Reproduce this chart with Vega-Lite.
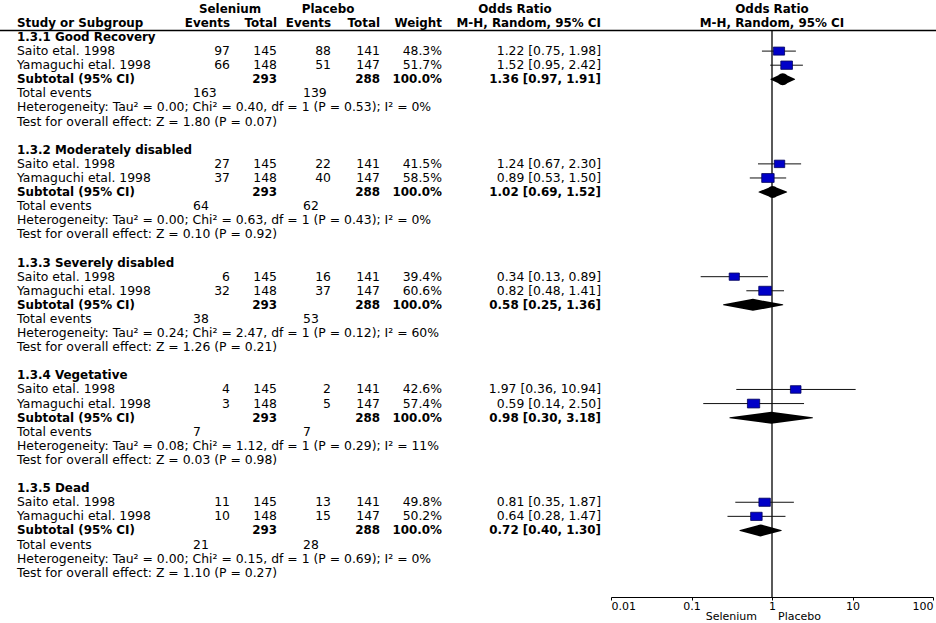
{
  "$schema": "https://vega.github.io/schema/vega-lite/v6.json",
  "width": 936,
  "height": 597,
  "autosize": {"type": "none"},
  "padding": {"left": 0, "top": 0, "right": 0, "bottom": 26},
  "background": "white",
  "config": {
    "view": {"stroke": null},
    "text": {"font": "DejaVu Sans", "fontSize": 12.4, "fill": "#000", "baseline": "middle"}
  },
  "datasets": {
    "lines": [
      {"row": 0, "kind": "group", "label": "1.3.1 Good Recovery"},
      {"row": 1, "kind": "study", "label": "Saito etal. 1998", "se": 97, "st": 145, "pe": 88, "pt": 141, "w": 0.483, "or": 1.22, "lo": 0.75, "hi": 1.98, "ci": "1.22 [0.75, 1.98]"},
      {"row": 2, "kind": "study", "label": "Yamaguchi etal. 1998", "se": 66, "st": 148, "pe": 51, "pt": 147, "w": 0.517, "or": 1.52, "lo": 0.95, "hi": 2.42, "ci": "1.52 [0.95, 2.42]"},
      {"row": 3, "kind": "subtotal", "label": "Subtotal (95% CI)", "st": 293, "pt": 288, "w": 1, "or": 1.36, "lo": 0.97, "hi": 1.91, "ci": "1.36 [0.97, 1.91]"},
      {"row": 4, "kind": "events", "label": "Total events", "se": 163, "pe": 139},
      {"row": 5, "kind": "note", "label": "Heterogeneity: Tau² = 0.00; Chi² = 0.40, df = 1 (P = 0.53); I² = 0%"},
      {"row": 6, "kind": "note", "label": "Test for overall effect: Z = 1.80 (P = 0.07)"},

      {"row": 8, "kind": "group", "label": "1.3.2 Moderately disabled"},
      {"row": 9, "kind": "study", "label": "Saito etal. 1998", "se": 27, "st": 145, "pe": 22, "pt": 141, "w": 0.415, "or": 1.24, "lo": 0.67, "hi": 2.30, "ci": "1.24 [0.67, 2.30]"},
      {"row": 10, "kind": "study", "label": "Yamaguchi etal. 1998", "se": 37, "st": 148, "pe": 40, "pt": 147, "w": 0.585, "or": 0.89, "lo": 0.53, "hi": 1.50, "ci": "0.89 [0.53, 1.50]"},
      {"row": 11, "kind": "subtotal", "label": "Subtotal (95% CI)", "st": 293, "pt": 288, "w": 1, "or": 1.02, "lo": 0.69, "hi": 1.52, "ci": "1.02 [0.69, 1.52]"},
      {"row": 12, "kind": "events", "label": "Total events", "se": 64, "pe": 62},
      {"row": 13, "kind": "note", "label": "Heterogeneity: Tau² = 0.00; Chi² = 0.63, df = 1 (P = 0.43); I² = 0%"},
      {"row": 14, "kind": "note", "label": "Test for overall effect: Z = 0.10 (P = 0.92)"},

      {"row": 16, "kind": "group", "label": "1.3.3 Severely disabled"},
      {"row": 17, "kind": "study", "label": "Saito etal. 1998", "se": 6, "st": 145, "pe": 16, "pt": 141, "w": 0.394, "or": 0.34, "lo": 0.13, "hi": 0.89, "ci": "0.34 [0.13, 0.89]"},
      {"row": 18, "kind": "study", "label": "Yamaguchi etal. 1998", "se": 32, "st": 148, "pe": 37, "pt": 147, "w": 0.606, "or": 0.82, "lo": 0.48, "hi": 1.41, "ci": "0.82 [0.48, 1.41]"},
      {"row": 19, "kind": "subtotal", "label": "Subtotal (95% CI)", "st": 293, "pt": 288, "w": 1, "or": 0.58, "lo": 0.25, "hi": 1.36, "ci": "0.58 [0.25, 1.36]"},
      {"row": 20, "kind": "events", "label": "Total events", "se": 38, "pe": 53},
      {"row": 21, "kind": "note", "label": "Heterogeneity: Tau² = 0.24; Chi² = 2.47, df = 1 (P = 0.12); I² = 60%"},
      {"row": 22, "kind": "note", "label": "Test for overall effect: Z = 1.26 (P = 0.21)"},

      {"row": 24, "kind": "group", "label": "1.3.4 Vegetative"},
      {"row": 25, "kind": "study", "label": "Saito etal. 1998", "se": 4, "st": 145, "pe": 2, "pt": 141, "w": 0.426, "or": 1.97, "lo": 0.36, "hi": 10.94, "ci": "1.97 [0.36, 10.94]"},
      {"row": 26, "kind": "study", "label": "Yamaguchi etal. 1998", "se": 3, "st": 148, "pe": 5, "pt": 147, "w": 0.574, "or": 0.59, "lo": 0.14, "hi": 2.50, "ci": "0.59 [0.14, 2.50]"},
      {"row": 27, "kind": "subtotal", "label": "Subtotal (95% CI)", "st": 293, "pt": 288, "w": 1, "or": 0.98, "lo": 0.30, "hi": 3.18, "ci": "0.98 [0.30, 3.18]"},
      {"row": 28, "kind": "events", "label": "Total events", "se": 7, "pe": 7},
      {"row": 29, "kind": "note", "label": "Heterogeneity: Tau² = 0.08; Chi² = 1.12, df = 1 (P = 0.29); I² = 11%"},
      {"row": 30, "kind": "note", "label": "Test for overall effect: Z = 0.03 (P = 0.98)"},

      {"row": 32, "kind": "group", "label": "1.3.5 Dead"},
      {"row": 33, "kind": "study", "label": "Saito etal. 1998", "se": 11, "st": 145, "pe": 13, "pt": 141, "w": 0.498, "or": 0.81, "lo": 0.35, "hi": 1.87, "ci": "0.81 [0.35, 1.87]"},
      {"row": 34, "kind": "study", "label": "Yamaguchi etal. 1998", "se": 10, "st": 148, "pe": 15, "pt": 147, "w": 0.502, "or": 0.64, "lo": 0.28, "hi": 1.47, "ci": "0.64 [0.28, 1.47]"},
      {"row": 35, "kind": "subtotal", "label": "Subtotal (95% CI)", "st": 293, "pt": 288, "w": 1, "or": 0.72, "lo": 0.40, "hi": 1.30, "ci": "0.72 [0.40, 1.30]"},
      {"row": 36, "kind": "events", "label": "Total events", "se": 21, "pe": 28},
      {"row": 37, "kind": "note", "label": "Heterogeneity: Tau² = 0.00; Chi² = 0.15, df = 1 (P = 0.69); I² = 0%"},
      {"row": 38, "kind": "note", "label": "Test for overall effect: Z = 1.10 (P = 0.27)"}
    ],
    "headers": [
      {"label": "Selenium", "col": 2, "row": -2},
      {"label": "Placebo", "col": 5, "row": -2},
      {"label": "Odds Ratio", "col": 9, "row": -2},
      {"label": "Odds Ratio", "col": 11, "row": -2},
      {"label": "Study or Subgroup", "col": 0, "row": -1},
      {"label": "Events", "col": 2, "row": -1},
      {"label": "Total", "col": 3, "row": -1},
      {"label": "Events", "col": 6, "row": -1},
      {"label": "Total", "col": 7, "row": -1},
      {"label": "Weight", "col": 8, "row": -1},
      {"label": "M-H, Random, 95% CI", "col": 10, "row": -1},
      {"label": "M-H, Random, 95% CI", "col": 11, "row": -1}
    ],
    "favours": [
      {"label": "Selenium", "side": "left"},
      {"label": "Placebo", "side": "right"}
    ]
  },
  "layer": [
    {
      "layer": [
        {
          "data": {"name": "headers"},
          "transform": [{"filter": "datum.row == -2 || datum.col == 11"}],
          "mark": {"type": "text", "align": "center", "fontWeight": "bold", "fontSize": 11.9},
          "encoding": {
            "x": {"field": "col", "type": "quantitative", "scale": {"type": "linear", "domain": [0,1,2,3,4,5,6,7,8,9,10,11], "range": [17,193,230,277,303,328,331,380,442,515,601,772], "nice": false, "zero": false}, "axis": null},
            "y": {"field": "row", "type": "quantitative", "scale": {"domain": [-2.624, 39.72], "reverse": true, "nice": false, "zero": false}, "axis": null},
            "text": {"field": "label"}
          }
        },
        {
          "data": {"name": "headers"},
          "transform": [{"filter": "datum.row == -1 && datum.col == 0"}],
          "mark": {"type": "text", "align": "left", "fontWeight": "bold", "fontSize": 11.9},
          "encoding": {
            "x": {"field": "col", "type": "quantitative", "scale": {"type": "linear", "domain": [0,1,2,3,4,5,6,7,8,9,10,11], "range": [17,193,230,277,303,328,331,380,442,515,601,772], "nice": false, "zero": false}, "axis": null},
            "y": {"field": "row", "type": "quantitative", "scale": {"domain": [-2.624, 39.72], "reverse": true, "nice": false, "zero": false}, "axis": null},
            "text": {"field": "label"}
          }
        },
        {
          "data": {"name": "headers"},
          "transform": [{"filter": "datum.row == -1 && datum.col != 0 && datum.col != 11"}],
          "mark": {"type": "text", "align": "right", "fontWeight": "bold", "fontSize": 11.9},
          "encoding": {
            "x": {"field": "col", "type": "quantitative", "scale": {"type": "linear", "domain": [0,1,2,3,4,5,6,7,8,9,10,11], "range": [17,193,230,277,303,328,331,380,442,515,601,772], "nice": false, "zero": false}, "axis": null},
            "y": {"field": "row", "type": "quantitative", "scale": {"domain": [-2.624, 39.72], "reverse": true, "nice": false, "zero": false}, "axis": null},
            "text": {"field": "label"}
          }
        },
        {
          "data": {"name": "lines"},
          "transform": [{"filter": "datum.kind == 'study' || datum.kind == 'events' || datum.kind == 'note'"}],
          "mark": {"type": "text", "align": "left"},
          "encoding": {
            "x": {"datum": 0, "type": "quantitative", "scale": {"type": "linear", "domain": [0,1,2,3,4,5,6,7,8,9,10,11], "range": [17,193,230,277,303,328,331,380,442,515,601,772], "nice": false, "zero": false}, "axis": null},
            "y": {"field": "row", "type": "quantitative", "scale": {"domain": [-2.624, 39.72], "reverse": true, "nice": false, "zero": false}, "axis": null},
            "text": {"field": "label"}
          }
        },
        {
          "data": {"name": "lines"},
          "transform": [{"filter": "datum.kind == 'group' || datum.kind == 'subtotal'"}],
          "mark": {"type": "text", "align": "left", "fontWeight": "bold", "fontSize": 11.9},
          "encoding": {
            "x": {"datum": 0, "type": "quantitative", "scale": {"type": "linear", "domain": [0,1,2,3,4,5,6,7,8,9,10,11], "range": [17,193,230,277,303,328,331,380,442,515,601,772], "nice": false, "zero": false}, "axis": null},
            "y": {"field": "row", "type": "quantitative", "scale": {"domain": [-2.624, 39.72], "reverse": true, "nice": false, "zero": false}, "axis": null},
            "text": {"field": "label"}
          }
        },
        {
          "data": {"name": "lines"},
          "transform": [{"filter": "datum.kind == 'study'"}],
          "mark": {"type": "text", "align": "right"},
          "encoding": {
            "x": {"datum": 2, "type": "quantitative", "scale": {"type": "linear", "domain": [0,1,2,3,4,5,6,7,8,9,10,11], "range": [17,193,230,277,303,328,331,380,442,515,601,772], "nice": false, "zero": false}, "axis": null},
            "y": {"field": "row", "type": "quantitative", "scale": {"domain": [-2.624, 39.72], "reverse": true, "nice": false, "zero": false}, "axis": null},
            "text": {"field": "se", "type": "quantitative"}
          }
        },
        {
          "data": {"name": "lines"},
          "transform": [{"filter": "datum.kind == 'study'"}],
          "mark": {"type": "text", "align": "right"},
          "encoding": {
            "x": {"datum": 3, "type": "quantitative", "scale": {"type": "linear", "domain": [0,1,2,3,4,5,6,7,8,9,10,11], "range": [17,193,230,277,303,328,331,380,442,515,601,772], "nice": false, "zero": false}, "axis": null},
            "y": {"field": "row", "type": "quantitative", "scale": {"domain": [-2.624, 39.72], "reverse": true, "nice": false, "zero": false}, "axis": null},
            "text": {"field": "st", "type": "quantitative"}
          }
        },
        {
          "data": {"name": "lines"},
          "transform": [{"filter": "datum.kind == 'study'"}],
          "mark": {"type": "text", "align": "right"},
          "encoding": {
            "x": {"datum": 6, "type": "quantitative", "scale": {"type": "linear", "domain": [0,1,2,3,4,5,6,7,8,9,10,11], "range": [17,193,230,277,303,328,331,380,442,515,601,772], "nice": false, "zero": false}, "axis": null},
            "y": {"field": "row", "type": "quantitative", "scale": {"domain": [-2.624, 39.72], "reverse": true, "nice": false, "zero": false}, "axis": null},
            "text": {"field": "pe", "type": "quantitative"}
          }
        },
        {
          "data": {"name": "lines"},
          "transform": [{"filter": "datum.kind == 'study'"}],
          "mark": {"type": "text", "align": "right"},
          "encoding": {
            "x": {"datum": 7, "type": "quantitative", "scale": {"type": "linear", "domain": [0,1,2,3,4,5,6,7,8,9,10,11], "range": [17,193,230,277,303,328,331,380,442,515,601,772], "nice": false, "zero": false}, "axis": null},
            "y": {"field": "row", "type": "quantitative", "scale": {"domain": [-2.624, 39.72], "reverse": true, "nice": false, "zero": false}, "axis": null},
            "text": {"field": "pt", "type": "quantitative"}
          }
        },
        {
          "data": {"name": "lines"},
          "transform": [{"filter": "datum.kind == 'study'"}],
          "mark": {"type": "text", "align": "right"},
          "encoding": {
            "x": {"datum": 8, "type": "quantitative", "scale": {"type": "linear", "domain": [0,1,2,3,4,5,6,7,8,9,10,11], "range": [17,193,230,277,303,328,331,380,442,515,601,772], "nice": false, "zero": false}, "axis": null},
            "y": {"field": "row", "type": "quantitative", "scale": {"domain": [-2.624, 39.72], "reverse": true, "nice": false, "zero": false}, "axis": null},
            "text": {"field": "w", "type": "quantitative", "format": ".1%"}
          }
        },
        {
          "data": {"name": "lines"},
          "transform": [{"filter": "datum.kind == 'study'"}],
          "mark": {"type": "text", "align": "right"},
          "encoding": {
            "x": {"datum": 10, "type": "quantitative", "scale": {"type": "linear", "domain": [0,1,2,3,4,5,6,7,8,9,10,11], "range": [17,193,230,277,303,328,331,380,442,515,601,772], "nice": false, "zero": false}, "axis": null},
            "y": {"field": "row", "type": "quantitative", "scale": {"domain": [-2.624, 39.72], "reverse": true, "nice": false, "zero": false}, "axis": null},
            "text": {"field": "ci"}
          }
        },
        {
          "data": {"name": "lines"},
          "transform": [{"filter": "datum.kind == 'subtotal'"}],
          "mark": {"type": "text", "align": "right", "fontWeight": "bold", "fontSize": 11.9},
          "encoding": {
            "x": {"datum": 3, "type": "quantitative", "scale": {"type": "linear", "domain": [0,1,2,3,4,5,6,7,8,9,10,11], "range": [17,193,230,277,303,328,331,380,442,515,601,772], "nice": false, "zero": false}, "axis": null},
            "y": {"field": "row", "type": "quantitative", "scale": {"domain": [-2.624, 39.72], "reverse": true, "nice": false, "zero": false}, "axis": null},
            "text": {"field": "st", "type": "quantitative"}
          }
        },
        {
          "data": {"name": "lines"},
          "transform": [{"filter": "datum.kind == 'subtotal'"}],
          "mark": {"type": "text", "align": "right", "fontWeight": "bold", "fontSize": 11.9},
          "encoding": {
            "x": {"datum": 7, "type": "quantitative", "scale": {"type": "linear", "domain": [0,1,2,3,4,5,6,7,8,9,10,11], "range": [17,193,230,277,303,328,331,380,442,515,601,772], "nice": false, "zero": false}, "axis": null},
            "y": {"field": "row", "type": "quantitative", "scale": {"domain": [-2.624, 39.72], "reverse": true, "nice": false, "zero": false}, "axis": null},
            "text": {"field": "pt", "type": "quantitative"}
          }
        },
        {
          "data": {"name": "lines"},
          "transform": [{"filter": "datum.kind == 'subtotal'"}],
          "mark": {"type": "text", "align": "right", "fontWeight": "bold", "fontSize": 11.9},
          "encoding": {
            "x": {"datum": 8, "type": "quantitative", "scale": {"type": "linear", "domain": [0,1,2,3,4,5,6,7,8,9,10,11], "range": [17,193,230,277,303,328,331,380,442,515,601,772], "nice": false, "zero": false}, "axis": null},
            "y": {"field": "row", "type": "quantitative", "scale": {"domain": [-2.624, 39.72], "reverse": true, "nice": false, "zero": false}, "axis": null},
            "text": {"field": "w", "type": "quantitative", "format": ".1%"}
          }
        },
        {
          "data": {"name": "lines"},
          "transform": [{"filter": "datum.kind == 'subtotal'"}],
          "mark": {"type": "text", "align": "right", "fontWeight": "bold", "fontSize": 11.9},
          "encoding": {
            "x": {"datum": 10, "type": "quantitative", "scale": {"type": "linear", "domain": [0,1,2,3,4,5,6,7,8,9,10,11], "range": [17,193,230,277,303,328,331,380,442,515,601,772], "nice": false, "zero": false}, "axis": null},
            "y": {"field": "row", "type": "quantitative", "scale": {"domain": [-2.624, 39.72], "reverse": true, "nice": false, "zero": false}, "axis": null},
            "text": {"field": "ci"}
          }
        },
        {
          "data": {"name": "lines"},
          "transform": [{"filter": "datum.kind == 'events'"}],
          "mark": {"type": "text", "align": "left"},
          "encoding": {
            "x": {"datum": 1, "type": "quantitative", "scale": {"type": "linear", "domain": [0,1,2,3,4,5,6,7,8,9,10,11], "range": [17,193,230,277,303,328,331,380,442,515,601,772], "nice": false, "zero": false}, "axis": null},
            "y": {"field": "row", "type": "quantitative", "scale": {"domain": [-2.624, 39.72], "reverse": true, "nice": false, "zero": false}, "axis": null},
            "text": {"field": "se", "type": "quantitative"}
          }
        },
        {
          "data": {"name": "lines"},
          "transform": [{"filter": "datum.kind == 'events'"}],
          "mark": {"type": "text", "align": "left"},
          "encoding": {
            "x": {"datum": 4, "type": "quantitative", "scale": {"type": "linear", "domain": [0,1,2,3,4,5,6,7,8,9,10,11], "range": [17,193,230,277,303,328,331,380,442,515,601,772], "nice": false, "zero": false}, "axis": null},
            "y": {"field": "row", "type": "quantitative", "scale": {"domain": [-2.624, 39.72], "reverse": true, "nice": false, "zero": false}, "axis": null},
            "text": {"field": "pe", "type": "quantitative"}
          }
        }
      ]
    },
    {
      "layer": [
        {
          "data": {"values": [{}]},
          "mark": {"type": "rule", "color": "#000", "strokeWidth": 1.6},
          "encoding": {
            "y": {"datum": -0.46, "type": "quantitative", "scale": {"domain": [-2.624, 39.72], "reverse": true, "nice": false, "zero": false}, "axis": null}
          }
        },
        {
          "data": {"values": [{}]},
          "mark": {"type": "rule", "color": "#000", "strokeWidth": 1.3},
          "encoding": {
            "x": {"datum": 1, "type": "quantitative", "scale": {"type": "log", "domain": [0.01, 100], "range": [611, 933], "nice": false}, "axis": {"orient": "bottom", "values": [0.01, 0.1, 1, 10, 100], "format": "~g", "labelFlush": true, "grid": false, "title": null, "domainColor": "#000", "domainWidth": 1, "tickColor": "#000", "tickWidth": 1, "tickSize": 3, "labelPadding": 0, "labelFont": "DejaVu Sans", "labelFontSize": 11, "labelColor": "#000"}},
            "y": {"datum": -0.46, "type": "quantitative", "scale": {"domain": [-2.624, 39.72], "reverse": true, "nice": false, "zero": false}, "axis": null},
            "y2": {"datum": 39.72}
          }
        },
        {
          "data": {"name": "lines"},
          "transform": [{"filter": "datum.kind == 'study'"}],
          "mark": {"type": "rule", "color": "#111", "strokeWidth": 1},
          "encoding": {
            "x": {"field": "lo", "type": "quantitative", "scale": {"type": "log", "domain": [0.01, 100], "range": [611, 933], "nice": false}, "axis": {"orient": "bottom", "values": [0.01, 0.1, 1, 10, 100], "format": "~g", "labelFlush": true, "grid": false, "title": null, "domainColor": "#000", "domainWidth": 1, "tickColor": "#000", "tickWidth": 1, "tickSize": 3, "labelPadding": 0, "labelFont": "DejaVu Sans", "labelFontSize": 11, "labelColor": "#000"}},
            "x2": {"field": "hi"},
            "y": {"field": "row", "type": "quantitative", "scale": {"domain": [-2.624, 39.72], "reverse": true, "nice": false, "zero": false}, "axis": null}
          }
        },
        {
          "data": {"name": "lines"},
          "transform": [{"filter": "datum.kind == 'study'"}],
          "mark": {"type": "point", "filled": true, "shape": "M-1.4,-1H1.4V1H-1.4Z", "fill": "#0000C8", "stroke": "#00005A", "strokeWidth": 0.8, "opacity": 1},
          "encoding": {
            "x": {"field": "or", "type": "quantitative", "scale": {"type": "log", "domain": [0.01, 100], "range": [611, 933], "nice": false}, "axis": {"orient": "bottom", "values": [0.01, 0.1, 1, 10, 100], "format": "~g", "labelFlush": true, "grid": false, "title": null, "domainColor": "#000", "domainWidth": 1, "tickColor": "#000", "tickWidth": 1, "tickSize": 3, "labelPadding": 0, "labelFont": "DejaVu Sans", "labelFontSize": 11, "labelColor": "#000"}},
            "y": {"field": "row", "type": "quantitative", "scale": {"domain": [-2.624, 39.72], "reverse": true, "nice": false, "zero": false}, "axis": null},
            "size": {"field": "w", "type": "quantitative", "scale": {"domain": [0, 1], "range": [0, 134]}, "legend": null}
          }
        },
        {
          "data": {"name": "lines"},
          "transform": [
            {"filter": "datum.kind == 'subtotal'"},
            {"fold": ["lo", "or", "hi"], "as": ["key", "val"]}
          ],
          "mark": {"type": "trail", "color": "#000"},
          "encoding": {
            "x": {"field": "val", "type": "quantitative", "scale": {"type": "log", "domain": [0.01, 100], "range": [611, 933], "nice": false}, "axis": {"orient": "bottom", "values": [0.01, 0.1, 1, 10, 100], "format": "~g", "labelFlush": true, "grid": false, "title": null, "domainColor": "#000", "domainWidth": 1, "tickColor": "#000", "tickWidth": 1, "tickSize": 3, "labelPadding": 0, "labelFont": "DejaVu Sans", "labelFontSize": 11, "labelColor": "#000"}},
            "y": {"field": "row", "type": "quantitative", "scale": {"domain": [-2.624, 39.72], "reverse": true, "nice": false, "zero": false}, "axis": null},
            "detail": {"field": "row", "type": "nominal"},
            "order": {"field": "val", "type": "quantitative"},
            "size": {"condition": {"test": "datum.key === 'or'", "value": 12}, "value": 0}
          }
        },
        {
          "data": {"name": "favours"},
          "transform": [{"filter": "datum.side == 'left'"}],
          "mark": {"type": "text", "align": "right", "baseline": "alphabetic", "fontSize": 11},
          "encoding": {
            "x": {"datum": 0.651, "type": "quantitative", "scale": {"type": "log", "domain": [0.01, 100], "range": [611, 933], "nice": false}, "axis": {"orient": "bottom", "values": [0.01, 0.1, 1, 10, 100], "format": "~g", "labelFlush": true, "grid": false, "title": null, "domainColor": "#000", "domainWidth": 1, "tickColor": "#000", "tickWidth": 1, "tickSize": 3, "labelPadding": 0, "labelFont": "DejaVu Sans", "labelFontSize": 11, "labelColor": "#000"}},
            "y": {"datum": 41.38, "type": "quantitative", "scale": {"domain": [-2.624, 39.72], "reverse": true, "nice": false, "zero": false}, "axis": null},
            "text": {"field": "label"}
          }
        },
        {
          "data": {"name": "favours"},
          "transform": [{"filter": "datum.side == 'right'"}],
          "mark": {"type": "text", "align": "left", "baseline": "alphabetic", "fontSize": 11},
          "encoding": {
            "x": {"datum": 1.187, "type": "quantitative", "scale": {"type": "log", "domain": [0.01, 100], "range": [611, 933], "nice": false}, "axis": {"orient": "bottom", "values": [0.01, 0.1, 1, 10, 100], "format": "~g", "labelFlush": true, "grid": false, "title": null, "domainColor": "#000", "domainWidth": 1, "tickColor": "#000", "tickWidth": 1, "tickSize": 3, "labelPadding": 0, "labelFont": "DejaVu Sans", "labelFontSize": 11, "labelColor": "#000"}},
            "y": {"datum": 41.38, "type": "quantitative", "scale": {"domain": [-2.624, 39.72], "reverse": true, "nice": false, "zero": false}, "axis": null},
            "text": {"field": "label"}
          }
        }
      ]
    }
  ],
  "resolve": {"scale": {"x": "independent"}, "axis": {"x": "independent"}}
}
